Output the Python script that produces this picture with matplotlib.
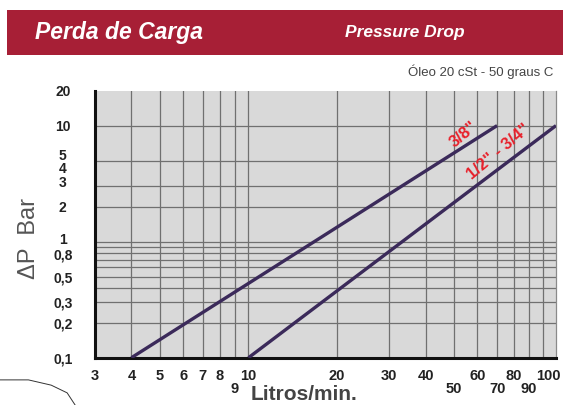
import matplotlib
matplotlib.use("Agg")
import matplotlib.pyplot as plt
from matplotlib.patches import Rectangle
from matplotlib.lines import Line2D
from matplotlib.transforms import offset_copy

# data (log-log)
flow_38 = [4, 70]          # l/min
dp_38 = [0.1, 10]          # bar
flow_12_34 = [10, 111]
dp_12_34 = [0.1, 10]

x_grid = [4, 5, 6, 7, 8, 9, 10, 20, 30, 40, 50, 60, 70, 80, 90, 100]
y_grid = [10, 5, 3, 2, 1, 0.9, 0.8, 0.7, 0.6, 0.5, 0.4, 0.3, 0.2]

x_ticks = [3, 4, 5, 6, 7, 8, 9, 10, 20, 30, 40, 50, 60, 70, 80, 90, 100]
x_labels = ["3", "4", "5", "6", "7", "8", "\n9", "10", "20", "30", "40",
            "\n50", "60", "\n70", "80", "\n90", "100"]
y_ticks = [20, 10, 5, 4, 3, 2, 1, 0.8, 0.5, 0.3, 0.2, 0.1]
y_labels = ["20", "10", "5", "4", "3", "2", "1", "0,8", "0,5", "0,3", "0,2", "0,1"]
# small vertical nudges (px) of crowded y labels, as printed in the original
y_nudge = {"5": 6, "4": 4, "3": 5, "1": 3, "0,8": -1}

plt.rcParams['font.family'] = ['Liberation Sans', 'DejaVu Sans']

fig = plt.figure(figsize=(5.69, 4.05), dpi=100)

# header banner
fig.patches.append(Rectangle((0.0123, 0.864), 0.977, 0.111, transform=fig.transFigure,
                             facecolor='#a71f36', edgecolor='none', zorder=0))
fig.text(0.062, 0.92, "Perda de Carga", color='white', fontsize=16.5, fontweight='bold',
         fontstyle='italic', va='center', ha='left')
fig.text(0.606, 0.92, "Pressure Drop", color='white', fontsize=12.5, fontweight='bold',
         fontstyle='italic', va='center', ha='left')
fig.text(0.972, 0.822, "Óleo 20 cSt - 50 graus C", color='#444444', fontsize=9.5,
         va='center', ha='right')

ax = fig.add_axes([0.1664, 0.1168, 0.8107, 0.6593])
ax.set_facecolor('#d9d9d9')
ax.set_xscale('log')
ax.set_yscale('log')
ax.set_xlim(3, 111)
ax.set_ylim(0.1, 20)

for v in x_grid:
    ax.axvline(v, color='#707070', lw=0.9, zorder=1)
for v in y_grid:
    ax.axhline(v, color='#707070', lw=0.9, zorder=1)

ax.plot(flow_38, dp_38, color='#3b2a5a', lw=2.4, solid_capstyle='butt', zorder=3)
ax.plot(flow_12_34, dp_12_34, color='#3b2a5a', lw=2.4, solid_capstyle='butt', zorder=3)

ax.text(54, 8.4, '3/8"', color='#e8202a', fontsize=12, fontweight='bold',
        rotation=40, ha='center', va='center', zorder=4)
ax.text(71, 5.9, '1/2" - 3/4"', color='#e8202a', fontsize=12, fontweight='bold',
        rotation=40, ha='center', va='center', zorder=4)

ax.minorticks_off()
ax.set_xticks(x_ticks)
ax.set_xticklabels(x_labels, fontsize=10.5, fontweight='bold', color='#222222',
                   linespacing=0.95)
ax.set_yticks(y_ticks)
ax.set_yticklabels(y_labels, fontsize=10, fontweight='bold', color='#222222')
ax.tick_params(axis='both', length=0)
ax.tick_params(axis='x', pad=8)
ax.tick_params(axis='y', pad=23)
for lab in ax.get_yticklabels():
    lab.set_horizontalalignment('center')
    dy = y_nudge.get(lab.get_text(), 0)
    if dy:
        lab.set_transform(offset_copy(lab.get_transform(), fig=fig, y=dy, units='dots'))
# nudge the last x label to the right like in the original
last = ax.get_xticklabels()[-1]
last.set_transform(offset_copy(last.get_transform(), fig=fig, x=6, units='dots'))

for side in ['left', 'bottom']:
    ax.spines[side].set_color('#111111')
    ax.spines[side].set_linewidth(2.2)
ax.spines['top'].set_visible(False)
ax.spines['right'].set_color('#8a8a8a')
ax.spines['right'].set_linewidth(0.9)

fig.text(0.051, 0.41, "ΔP  Bar", rotation=90, fontsize=17, color='#555555',
         ha='center', va='center')
fig.text(0.44, 0.002, "Litros/min.", fontsize=15, fontweight='bold', color='#444444',
         ha='left', va='bottom')

# decorative curve bottom-left
fig.lines.append(Line2D([0.0, 0.05, 0.09, 0.118, 0.132],
                        [0.062, 0.062, 0.049, 0.03, 0.0],
                        transform=fig.transFigure, color='#333333', lw=0.7))

fig.savefig("out.png", dpi=100)
